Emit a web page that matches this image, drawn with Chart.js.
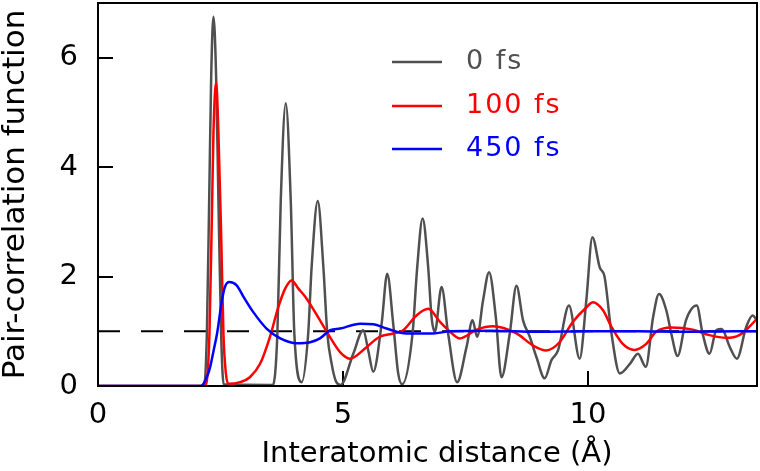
<!DOCTYPE html>
<html>
<head>
<meta charset="utf-8">
<script src="https://cdn.jsdelivr.net/npm/chart.js@4.4.1/dist/chart.umd.min.js"></script>
<style>
  html, body { margin: 0; padding: 0; background: #fff; }
  #pcf { display: block; }
</style>
</head>
<body>
<canvas id="pcf" width="760" height="471"></canvas>
<script>
// series names / colours (legend order)
const seriesLabels = ["0 fs", "100 fs", "450 fs"];
const seriesColors = ["#505050", "#ff0000", "#0000ff"];

// 0 fs
const r0 = [0, 2.085, 2.167, 2.222, 2.269, 2.31, 2.356, 2.411, 2.458, 2.513, 2.564, 3.514,
  3.572, 3.661, 3.73, 3.832, 3.934, 4.007, 4.158, 4.29, 4.36, 4.485, 4.6, 4.68, 4.77, 4.85, 4.95,
  5.21, 5.414, 5.516, 5.618, 5.789, 5.903, 6.025, 6.127, 6.209, 6.42, 6.515, 6.625, 6.739, 6.808,
  6.875, 7.012, 7.146, 7.33, 7.521, 7.644, 7.738, 7.86, 7.982, 8.119, 8.235, 8.404, 8.541, 8.675,
  8.812, 8.948, 9.117, 9.254, 9.389, 9.613, 9.831, 9.967, 10.09, 10.24, 10.34, 10.48, 10.65,
  10.86, 11.02, 11.18, 11.33, 11.45, 11.6, 11.7, 11.83, 12.0, 12.22, 12.34, 12.48, 12.62, 12.73,
  12.9, 13.04, 13.23, 13.36, 13.45];
const g0 = [0, 0, 0.03, 0.96, 3.39, 5.65, 6.75, 5.65, 3.39, 0.96, 0.03, 0.02,
  0.02, 0.96, 3.39, 5.17, 3.39, 0.96, 0.07, 0.96, 2.17, 3.38, 2.17, 0.96, 0.4, 0.1, 0.02,
  0.59, 1.02, 0.65, 0.26, 1.14, 2.05, 1.14, 0.23, 0.03, 0.96, 2.17, 3.06, 2.17, 1.26,
  0.99, 1.81, 0.96, 0.07, 0.71, 1.2, 0.9, 1.57, 2.08, 1.26, 0.16, 0.96, 1.83, 1.2,
  0.9, 0.53, 0.14, 0.47, 0.65, 1.47, 0.5, 1.57, 2.72, 2.17, 1.99, 0.96, 0.23,
  0.41, 0.59, 0.35, 1.26, 1.68, 1.38, 0.96, 0.55, 1.2, 1.47, 0.96, 0.59, 1.02, 1.04,
  0.7, 0.5, 1.08, 1.29, 1.2];

// 100 fs
const r100 = [0, 2.19, 2.275, 2.33, 2.356, 2.411, 2.458, 2.513, 2.56, 2.61, 2.662, 2.9, 3.1,
  3.31, 3.51, 3.68, 3.82, 3.95, 4.09, 4.23, 4.43, 4.73, 4.94, 5.14, 5.48, 5.75, 6.03, 6.23, 6.5,
  6.74, 6.98, 7.15, 7.38, 7.73, 8.06, 8.54, 8.88, 9.15, 9.42, 9.69, 9.97, 10.1, 10.31, 10.48,
  10.71, 10.95, 11.19, 11.39, 11.7, 12.14, 12.48, 12.82, 13.09, 13.29, 13.45];
const g100 = [0, 0, 0.96, 3.39, 4.61, 5.55, 4.61, 2.78, 0.96, 0.23, 0.04, 0.07, 0.16,
  0.41, 0.9, 1.44, 1.78, 1.93, 1.78, 1.63, 1.35, 0.9, 0.62, 0.5, 0.71, 0.9, 0.96, 1.02, 1.29,
  1.41, 1.17, 1.02, 0.87, 1.03, 1.09, 0.96, 0.74, 0.65, 0.8, 1.17, 1.44, 1.53, 1.38, 1.08,
  0.77, 0.66, 0.77, 0.99, 1.07, 1.03, 0.93, 0.88, 0.93, 1.08, 1.23];

// 450 fs
const r450 = [0, 2.1, 2.22, 2.29, 2.36, 2.43, 2.53, 2.59, 2.68, 2.83, 2.97, 3.17, 3.44, 3.72,
  4.06, 4.33, 4.53, 4.74, 4.94, 5.35, 5.62, 5.89, 6.3, 6.84, 7.18, 8.0, 9.0, 10.0, 11.0, 12.0,
  13.0, 13.45];
const g450 = [0, 0, 0.16, 0.35, 0.65, 0.96, 1.57, 1.81, 1.9, 1.84, 1.63, 1.35, 1.05, 0.87,
  0.78, 0.8, 0.87, 1.02, 1.05, 1.14, 1.13, 1.05, 0.96, 0.96, 1.0, 1.01, 0.99, 1.0, 1.0, 0.99,
  1.0, 1.0];

// reference level g = 1
const refX = [0, 13.45];
const refY = [1, 1];

const xTicks = [0, 5, 10];
const yTicks = [0, 2, 4, 6];
const xTitle = "Interatomic distance (Å)";
const yTitle = "Pair-correlation function";

const FONT = '"DejaVu Sans", sans-serif';

function pts(xs, ys) {
  return xs.map((x, i) => ({ x, y: ys[i] }));
}

function curve(i, xs, ys, order) {
  return {
    label: seriesLabels[i],
    data: pts(xs, ys),
    borderColor: seriesColors[i],
    borderWidth: 2.5,
    pointRadius: 0,
    cubicInterpolationMode: "monotone",
    order
  };
}

// frame round the plot, key inside it, x title (sits a bit right of centre)
const frameAndKey = {
  id: "frameAndKey",
  afterDatasetsDraw(chart) {
    const { ctx, chartArea: a } = chart;
    ctx.save();
    ctx.strokeStyle = "#000";
    ctx.lineWidth = 2;
    ctx.strokeRect(a.left, a.top, a.right - a.left, a.bottom - a.top);

    const rows = [62, 106, 149];
    ctx.font = "27px " + FONT;
    ctx.textBaseline = "middle";
    ctx.textAlign = "left";
    ctx.letterSpacing = "2px";
    ctx.lineWidth = 2.5;
    seriesLabels.forEach((label, i) => {
      ctx.strokeStyle = seriesColors[i];
      ctx.beginPath();
      ctx.moveTo(392, rows[i]);
      ctx.lineTo(442, rows[i]);
      ctx.stroke();
      ctx.fillStyle = seriesColors[i];
      ctx.fillText(label, 466, rows[i]);
    });

    ctx.letterSpacing = "0px";
    ctx.fillStyle = "#000";
    ctx.font = "29px " + FONT;
    ctx.textAlign = "center";
    ctx.fillText(xTitle, 437, 454);
    ctx.restore();
  }
};

Chart.defaults.color = "#000";

new Chart(document.getElementById("pcf"), {
  type: "line",
  data: {
    datasets: [
      curve(2, r450, g450, 1),
      curve(1, r100, g100, 2),
      curve(0, r0, g0, 3),
      {
        label: "g = 1",
        data: pts(refX, refY),
        borderColor: "#000",
        borderWidth: 2,
        borderDash: [22, 21],
        pointRadius: 0,
        order: 4
      }
    ]
  },
  options: {
    responsive: false,
    animation: false,
    devicePixelRatio: 1,
    layout: { padding: { top: 3, right: 3, left: 0, bottom: 0 } },
    plugins: { legend: { display: false }, tooltip: { enabled: false } },
    scales: {
      x: {
        type: "linear",
        min: 0,
        max: 13.45,
        afterFit: s => {
          s.height = 85;
          s.paddingLeft = 0;
          s.paddingRight = 0;
        },
        afterBuildTicks: s => { s.ticks = xTicks.map(v => ({ value: v })); },
        ticks: { font: { family: FONT, size: 29 }, padding: 27, includeBounds: false },
        grid: { drawOnChartArea: false, tickLength: -15, lineWidth: 2, color: "#000" },
        border: { color: "#000", width: 2 },
        title: { display: false }
      },
      y: {
        min: 0,
        max: 7,
        afterFit: s => {
          s.width = 98;
          s.paddingTop = 0;
          s.paddingBottom = 0;
        },
        afterBuildTicks: s => { s.ticks = yTicks.map(v => ({ value: v })); },
        ticks: { font: { family: FONT, size: 29 }, padding: 35, includeBounds: false },
        grid: { drawOnChartArea: false, tickLength: -15, lineWidth: 2, color: "#000" },
        border: { color: "#000", width: 2 },
        title: {
          display: true,
          text: yTitle,
          font: { family: FONT, size: 31, lineHeight: 1 },
          padding: { top: 0, bottom: 0 }
        }
      }
    }
  },
  plugins: [frameAndKey]
});
</script>
</body>
</html>
